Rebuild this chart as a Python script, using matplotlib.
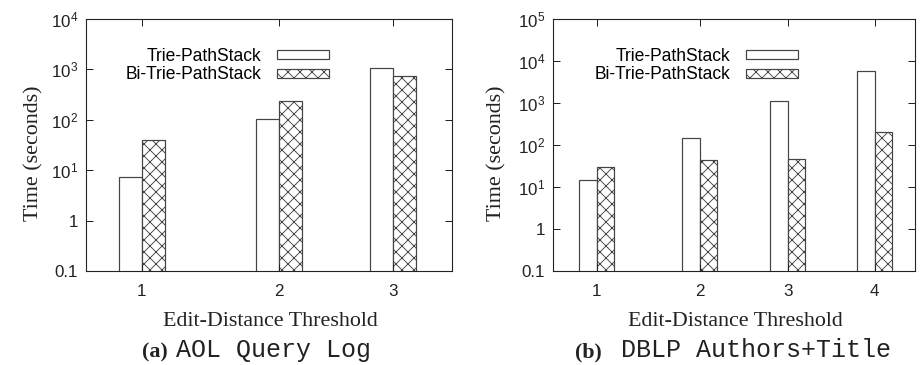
import numpy as np
import matplotlib.pyplot as plt
from matplotlib.ticker import FixedLocator, FixedFormatter, NullLocator

# running times (seconds) per edit-distance threshold
thresholds_aol = [1, 2, 3]
trie_aol = [7.4, 106, 1060]
bitrie_aol = [40, 235, 727]

thresholds_dblp = [1, 2, 3, 4]
trie_dblp = [14.7, 147, 1135, 5650]
bitrie_dblp = [30, 45, 45.5, 205]

series_names = ["Trie-PathStack", "Bi-Trie-PathStack"]

plt.rcParams["hatch.linewidth"] = 0.9
plt.rcParams["axes.linewidth"] = 1.1

SANS = "Liberation Sans"
SERIF = "Liberation Serif"
MONO = "Liberation Mono"
INK = "#222222"
EDGE = "#444444"

W, H = 920, 365
fig = plt.figure(figsize=(W / 72, H / 72), dpi=72)


def px_box(x0, x1, y0, y1):
    return [x0 / W, 1 - y1 / H, (x1 - x0) / W, (y1 - y0) / H]


def log_labels(top_exp):
    vals = [0.1, 1] + [10.0 ** k for k in range(1, top_exp + 1)]
    labs = ["0.1", "1"] + [r"$\mathregular{10^{%d}}$" % k for k in range(1, top_exp + 1)]
    return vals, labs


def panel(box, thresholds, trie, bitrie, slots, width, top_exp, legend_x, ylab_x):
    ax = fig.add_axes(box)
    ax.set_yscale("log")
    slots = np.array(slots)
    ax.bar(slots - width / 2, trie, width=width, align="center",
           facecolor="white", edgecolor=EDGE, linewidth=1.2,
           label=series_names[0])
    ax.bar(slots + width / 2, bitrie, width=width, align="center",
           facecolor="white", edgecolor=EDGE, linewidth=1.2, hatch="xx",
           label=series_names[1])
    ax.set_xlim(0, 1)
    ax.set_ylim(0.1, 10.0 ** top_exp)

    vals, labs = log_labels(top_exp)
    ax.yaxis.set_major_locator(FixedLocator(vals))
    ax.yaxis.set_major_formatter(FixedFormatter(labs))
    ax.yaxis.set_minor_locator(NullLocator())
    ax.set_xticks(slots)
    ax.set_xticklabels([str(t) for t in thresholds])

    ax.tick_params(direction="in", length=7, width=1.0, top=True, right=True,
                   colors=INK, labelsize=17)
    ax.tick_params(axis="y", pad=8)
    ax.tick_params(axis="x", pad=13)
    for lab in ax.get_xticklabels() + ax.get_yticklabels():
        lab.set_fontfamily(SANS)
    for sp in ax.spines.values():
        sp.set_color(INK)

    ax.set_ylabel("Time (seconds)", fontfamily=SERIF, fontsize=22, color=INK)
    ax.yaxis.set_label_coords(ylab_x, 0.466)
    ax.yaxis.label.set_va("center")
    ax.set_xlabel("Edit-Distance Threshold", fontfamily=SERIF, fontsize=22,
                  color=INK)
    ax.xaxis.set_label_coords(0.504, -0.2)
    ax.xaxis.label.set_va("center")

    ax.legend(loc="upper right", bbox_to_anchor=(legend_x, 0.885),
              frameon=False, markerfirst=False, borderpad=0, borderaxespad=0,
              handlelength=3.0, handleheight=0.42, handletextpad=0.85,
              labelspacing=0.08, prop={"family": SANS, "size": 17.5})
    return ax


panel(px_box(86, 452, 19, 271), thresholds_aol, trie_aol, bitrie_aol,
      [0.153, 0.527, 0.839], 0.0628, 4, 0.664, -0.142)
panel(px_box(553, 915, 19, 271), thresholds_dblp, trie_dblp, bitrie_dblp,
      [0.1215, 0.406, 0.649, 0.889], 0.0483, 5, 0.677, -0.155)

# sub-figure captions
for tag, name, x_tag, x_name in [("(a)", "AOL Query Log", 142, 176),
                                 ("(b)", "DBLP Authors+Title", 575, 621)]:
    fig.text(x_tag / W, 1 - 357 / H, tag, fontfamily=SERIF, fontweight="bold",
             fontsize=22, color=INK, ha="left", va="baseline")
    fig.text(x_name / W, 1 - 357 / H, name, fontfamily=MONO, fontsize=25,
             color=INK, ha="left", va="baseline")

fig.savefig("out.png", dpi=72, facecolor="white")
